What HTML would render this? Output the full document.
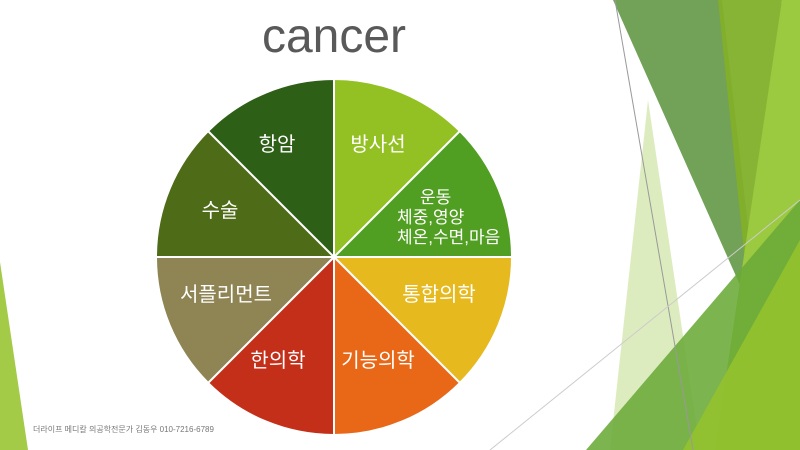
<!DOCTYPE html>
<html><head><meta charset="utf-8"><style>
html,body{margin:0;padding:0;background:#fff;}
svg{display:block;}
text{font-family:"Liberation Sans","Noto Sans CJK KR",sans-serif;}
</style></head><body>
<svg width="800" height="450" viewBox="0 0 800 450" xmlns="http://www.w3.org/2000/svg">
<!-- background decorations -->
<polygon points="0,262 28,450 0,450" fill="#a3cb48"/>
<polygon points="648,100 700,450 610,450" fill="#d2e5aa" opacity="0.75"/>
<polygon points="613,0 722,0 760,330" fill="#4f8a2e" opacity="0.8"/>
<polygon points="718,0 782,0 752,330" fill="#82b02a" opacity="0.95"/>
<polygon points="782,0 800,0 800,450 715,450" fill="#9bc940"/>
<polygon points="586,450 800,200 800,450" fill="#6aaa38" opacity="0.88"/>
<polygon points="683,450 800,240 800,450" fill="#93c22e" opacity="0.9"/>
<line x1="615" y1="0" x2="693" y2="450" stroke="#999" stroke-width="1"/>
<line x1="490" y1="450" x2="800" y2="200" stroke="#ccc" stroke-width="1"/>
<!-- title -->
<text x="334" y="52" font-size="48" fill="#595959" text-anchor="middle">cancer</text>
<!-- pie -->
<g stroke="#fff" stroke-width="2">
<path d="M334,257 L334,79 A178,178 0 0 1 459.9,131.1 Z" fill="#93c123"/>
<path d="M334,257 L459.9,131.1 A178,178 0 0 1 512,257 Z" fill="#519f22"/>
<path d="M334,257 L512,257 A178,178 0 0 1 459.9,382.9 Z" fill="#e6b91e"/>
<path d="M334,257 L459.9,382.9 A178,178 0 0 1 334,435 Z" fill="#e86818"/>
<path d="M334,257 L334,435 A178,178 0 0 1 208.1,382.9 Z" fill="#c42f1a"/>
<path d="M334,257 L208.1,382.9 A178,178 0 0 1 156,257 Z" fill="#8f8453"/>
<path d="M334,257 L156,257 A178,178 0 0 1 208.1,131.1 Z" fill="#4e6b17"/>
<path d="M334,257 L208.1,131.1 A178,178 0 0 1 334,79 Z" fill="#2e5f16"/>
</g>
<g fill="#fff" font-size="20" text-anchor="middle">
<text x="378" y="151">방사선</text>
<text x="277" y="151">항암</text>
<text x="220" y="217">수술</text>
<text x="439" y="301">통합의학</text>
<text x="226" y="301">서플리먼트</text>
<text x="278" y="367">한의학</text>
<text x="378" y="367">기능의학</text>
</g>
<g fill="#fff" font-size="17">
<text x="420" y="203">운동</text>
<text x="397" y="223">체중,영양</text>
<text x="397" y="243">체온,수면,마음</text>
</g>
<text x="33" y="432" font-size="8" fill="#777">더라이프 메디칼 의공학전문가 김동우 010-7216-6789</text>
</svg>
</body></html>
